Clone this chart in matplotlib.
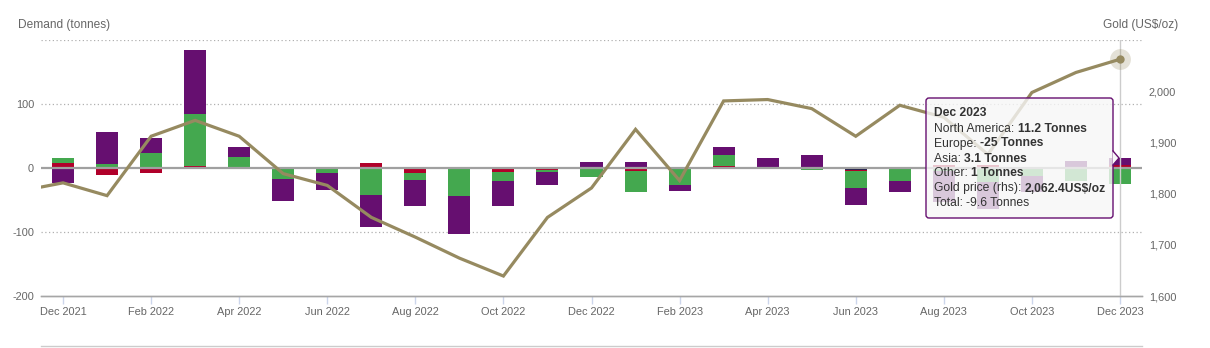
import numpy as np
import pandas as pd
import matplotlib.pyplot as plt
import matplotlib.patches as patches
import matplotlib.transforms as mtransforms
from matplotlib.ticker import FuncFormatter


# monthly gold ETF flows by region (tonnes), Dec 2021 - Dec 2023
months = list(pd.date_range('2021-12-01', periods=25, freq='MS').strftime('%b %Y'))

north_america = [-24, 50.2, 23.6, 100.6, 15.7, -33, -26.7, -50.3, -40.8, -59.8, -39.3, -20.4,
                 9.4, 7.9, -8.9, 12.6, 15.7, 20.4, -26.3, -16, -48, -42, -26, 11, 11.2]
europe = [7.9, 5.8, 23, 81.8, 16.8, -17.8, -6.4, -42.5, -11, -42.4, -14.1, -3.3,
          -12.5, -32.5, -25.1, 17.3, 0, -2.5, -26.7, -19, -5, -22, -12, -21, -25]
asia = [7.3, -10.3, -8, 2.6, 0, 0, 0, 7.9, -7.9, -1.6, -5.8, -2,
        -1.6, -4.7, 0, 3.1, 0, 0, -1.2, 2, 5, 5, 2, 0, 3.1]
other = [0, -1.2, 0, -1.5, -1.5, 0, -1.5, 0, 0, 0, -0.5, -1,
         0, 1.6, -1.6, 0, -1.5, -0.5, -3.5, -2, 0, 0, 0, 0, 1]

# month-end gold price (US$/oz), starting one month earlier (Nov 2021)
gold_price = [1804.5, 1821, 1796, 1912, 1943, 1912, 1839, 1816, 1753.6, 1715, 1674, 1639,
              1753.5, 1811, 1925.5, 1825.5, 1981, 1983.7, 1966, 1912, 1972.5, 1949, 1876.5,
              1997.5, 2036.6, 2062.4]
tooltip_total = -9.6

c_na = '#660f70'
c_eu = '#44a84f'
c_asia = '#b0002a'
c_other = '#1c1a48'
c_gold = '#968a60'
grey_text = '#666666'

plt.rcParams['font.family'] = ['Liberation Sans', 'DejaVu Sans']
plt.rcParams['axes.unicode_minus'] = False

W, H = 1210, 348
fig = plt.figure(figsize=(W / 100, H / 100), dpi=100)
ax = fig.add_axes([41 / W, 52 / H, (1142 - 41) / W, (296 - 40) / H])
ax2 = ax.twinx()

x = np.arange(len(months))

# stack from zero outwards: other, asia, europe, north america
pos = np.zeros(len(x))
neg = np.zeros(len(x))
for vals, col in [(other, c_other), (asia, c_asia), (europe, c_eu), (north_america, c_na)]:
    v = np.array(vals, dtype=float)
    bottom = np.where(v >= 0, pos, neg)
    ax.bar(x, v, width=0.5, bottom=bottom, color=col, linewidth=0, zorder=2)
    pos = pos + np.clip(v, 0, None)
    neg = neg + np.clip(v, None, 0)

ax.set_xlim(-0.5, 24.5)
ax.set_ylim(-200, 200)
ax.set_yticks([-200, -100, 0, 100, 200])
ax.yaxis.set_major_formatter(FuncFormatter(lambda v, p: '' if v == 200 else '%d' % v))
for yv in [100, 200, -100]:
    ax.axhline(yv, color='#b0b0b0', lw=0.9, linestyle=(0, (1, 2)), zorder=1)
ax.axhline(0, color='#a0a0a0', lw=1.6, zorder=3)

ax.set_xticks(x[::2])
ax.set_xticklabels(months[::2])
ax.tick_params(axis='x', length=5.8, width=1, color='#ccd6eb', labelcolor=grey_text,
               labelsize=7.9, pad=2)
ax.tick_params(axis='y', length=0, labelsize=7.9, labelcolor=grey_text, pad=5)

for a in (ax, ax2):
    for s in ['top', 'left', 'right']:
        a.spines[s].set_visible(False)
    a.spines['bottom'].set_color('#a6a6a6')
    a.spines['bottom'].set_linewidth(1)

# gold price line on the right axis
gx = np.arange(-1, len(months))
ax2.plot(gx, gold_price, color=c_gold, lw=2.3, solid_joinstyle='miter', zorder=3)
ax2.set_ylim(1600, 2100)
ax2.set_yticks([1600, 1700, 1800, 1900, 2000, 2100])
ax2.yaxis.set_major_formatter(FuncFormatter(lambda v, p: '' if v == 2100 else '{:,.0f}'.format(v)))
ax2.tick_params(axis='y', length=0, labelsize=7.9, labelcolor=grey_text, pad=5)
ax2.set_xlim(-0.5, 24.5)

# hover state on the last month
ax2.axvline(x[-1], color='#cccccc', lw=1, zorder=2)
ax2.plot([x[-1]], [gold_price[-1]], 'o', ms=15, color=c_gold, alpha=0.25, mec='none', zorder=4)
ax2.plot([x[-1]], [gold_price[-1]], 'o', ms=6, color=c_gold, mec='none', zorder=5)

fig.text(18 / W, 1 - 25 / H, 'Demand (tonnes)', fontsize=8.6, color=grey_text,
         ha='left', va='center')
fig.text(1178 / W, 1 - 25 / H, 'Gold (US$/oz)', fontsize=8.6, color=grey_text,
         ha='right', va='center')

# navigator edge at the bottom
fig.add_artist(plt.Line2D([41 / W, 1142 / W], [1 - 346 / H, 1 - 346 / H],
                          color='#cccccc', lw=1))

# tooltip, in pixel units from the top-left corner
pix = mtransforms.Affine2D().scale(1 / 100) + fig.dpi_scale_trans


def P(px, py):
    return (px, H - py)


bx0, by0, bx1, by1 = 926, 98, 1113, 218
box = patches.FancyBboxPatch(P(bx0, by1), bx1 - bx0, by1 - by0,
                             boxstyle='round,pad=0,rounding_size=3',
                             transform=pix, facecolor='#f7f7f7', alpha=0.8,
                             edgecolor='none', zorder=10)
fig.add_artist(box)
edge = patches.FancyBboxPatch(P(bx0, by1), bx1 - bx0, by1 - by0,
                              boxstyle='round,pad=0,rounding_size=3',
                              transform=pix, facecolor='none',
                              edgecolor=c_na, lw=1, zorder=11)
fig.add_artist(edge)
pointer = patches.Polygon([P(bx1 - 0.5, 151), P(1119, 158), P(bx1 - 0.5, 165)], closed=True,
                          transform=pix, facecolor='#f7f7f7', edgecolor='none', zorder=12)
fig.add_artist(pointer)
fig.add_artist(plt.Line2D([bx1, 1119, bx1], [H - 151, H - 158, H - 165], color=c_na, lw=1,
                          transform=pix, zorder=12))

rows = [('North America: ', '%g Tonnes' % north_america[-1], True),
        ('Europe: ', '%g Tonnes' % europe[-1], True),
        ('Asia: ', '%g Tonnes' % asia[-1], True),
        ('Other: ', '%g Tonnes' % other[-1], True),
        ('Gold price (rhs): ', '{:,.1f}US$/oz'.format(gold_price[-1]), True),
        ('Total: ', '%g Tonnes' % tooltip_total, False)]

fs = 8.7
tx = 934
fig.text(*P(tx, 113), months[-1], transform=pix, fontsize=fs, fontweight='bold',
         color='#333333', va='center', ha='left', zorder=13)
for i, (lab, val, bold) in enumerate(rows):
    ty = 128.5 + 15 * i
    t = fig.text(*P(tx, ty), lab, transform=pix, fontsize=fs, color='#333333',
                 va='center', ha='left', zorder=13)
    fig.add_artist(plt.Annotation(val, xy=(1, 0.5), xycoords=t, va='center', ha='left',
                                  fontsize=fs, color='#333333',
                                  fontweight='bold' if bold else 'normal', zorder=13))

fig.savefig('out.png', dpi=100)
